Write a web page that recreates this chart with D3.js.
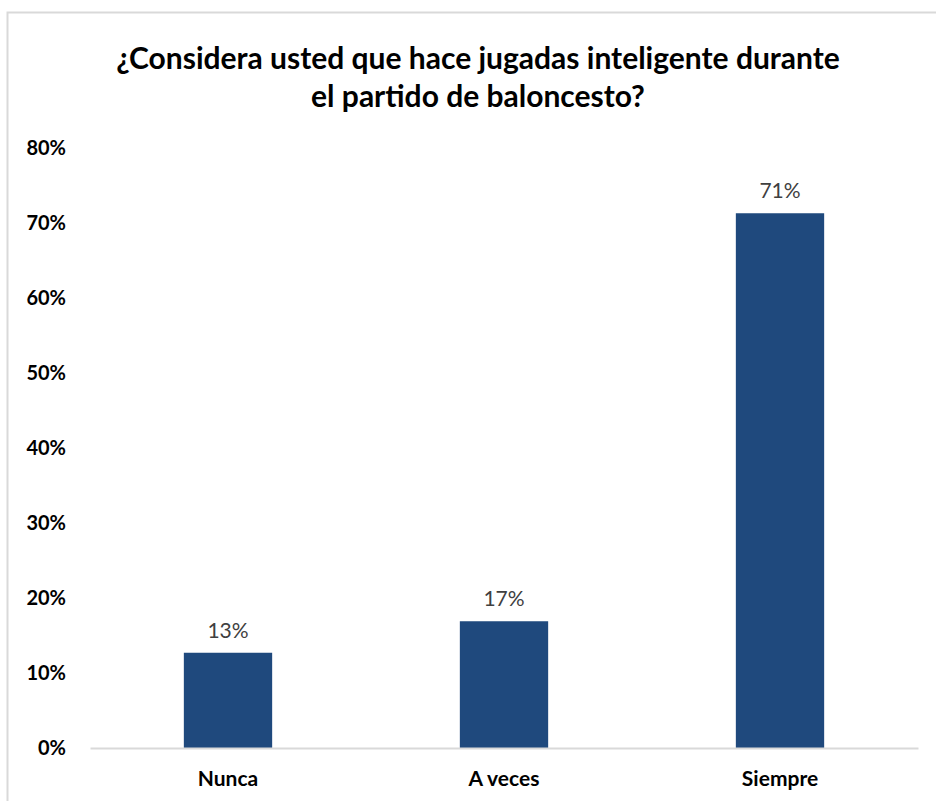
<!DOCTYPE html>
<html>
<head>
<meta charset="utf-8">
<script src="https://cdn.jsdelivr.net/npm/d3@7"></script>
<style>
  body { margin: 0; background: #fff; }
  text { font-family: Lato, "Open Sans", sans-serif; }
</style>
</head>
<body>
<div class="canvas"></div>
<script>
const categories = ["Nunca", "A veces", "Siempre"];
const values = [12.7, 16.9, 71.3];
const valueLabels = ["13%", "17%", "71%"];
const yTicks = [0, 10, 20, 30, 40, 50, 60, 70, 80];
const titleLines = ["¿Considera usted que hace jugadas inteligente durante", "el partido de baloncesto?"];

const w = 936;
const h = 801;

// select the svg and set the width and the height
const svg = d3
  .select(".canvas")
  .append("svg")
  .attr("width", w)
  .attr("height", h);

// chart frame (only top and left edges visible)
svg.append("rect")
  .attr("x", 7.5)
  .attr("y", 12.5)
  .attr("width", 1000)
  .attr("height", 1000)
  .attr("fill", "none")
  .attr("stroke", "#d9d9d9")
  .attr("stroke-width", 2);

// title
svg.append("text")
  .attr("x", 478)
  .attr("y", 69)
  .attr("text-anchor", "middle")
  .attr("font-size", 30)
  .attr("font-weight", "bold")
  .attr("fill", "#000")
  .selectAll("tspan")
  .data(titleLines)
  .enter()
  .append("tspan")
  .attr("x", 478)
  .attr("dy", (d, i) => (i === 0 ? 0 : 38))
  .text(d => d);

// margins and dimensions
const margin = { top: 148, left: 90, right: 18, bottom: 53 };
const graphWidth = w - margin.left - margin.right;
const graphHeight = h - margin.top - margin.bottom;

const graph = svg
  .append("g")
  .attr("transform", `translate(${margin.left}, ${margin.top})`);

// y scale
const y = d3.scaleLinear().domain([0, 80]).range([graphHeight, 0]);

// x scale
const x = d3
  .scaleBand()
  .domain(categories)
  .range([0, graphWidth])
  .paddingInner(0.68)
  .paddingOuter(0.34);

// y axis labels
const yAxis = d3.axisLeft(y).tickValues(yTicks).tickFormat(d => d + "%").tickSize(0).tickPadding(24);
const yAxisGroup = graph.append("g").call(yAxis);
yAxisGroup.select(".domain").remove();
yAxisGroup.selectAll("text")
  .attr("font-size", 20)
  .attr("font-weight", "bold")
  .attr("fill", "#000")
  .attr("font-family", "Lato, 'Open Sans', sans-serif");

// bars
graph.selectAll("rect.bar")
  .data(values)
  .enter()
  .append("rect")
  .attr("class", "bar")
  .attr("x", (d, i) => x(categories[i]))
  .attr("y", d => y(d))
  .attr("width", x.bandwidth())
  .attr("height", d => graphHeight - y(d))
  .attr("fill", "#1f497d");

// value labels
graph.selectAll("text.val")
  .data(values)
  .enter()
  .append("text")
  .attr("class", "val")
  .attr("x", (d, i) => x(categories[i]) + x.bandwidth() / 2)
  .attr("y", d => y(d) - 15)
  .attr("text-anchor", "middle")
  .attr("font-size", 21)
  .attr("fill", "#404040")
  .text((d, i) => valueLabels[i]);

// x axis
const xAxis = d3.axisBottom(x).tickSize(0).tickPadding(23);
const xAxisGroup = graph.append("g")
  .attr("transform", `translate(0, ${graphHeight})`)
  .call(xAxis);
xAxisGroup.select(".domain").attr("stroke", "#d9d9d9").attr("stroke-width", 2);
xAxisGroup.selectAll("text")
  .attr("font-size", 21)
  .attr("font-weight", "bold")
  .attr("fill", "#000")
  .attr("font-family", "Lato, 'Open Sans', sans-serif");
</script>
</body>
</html>
